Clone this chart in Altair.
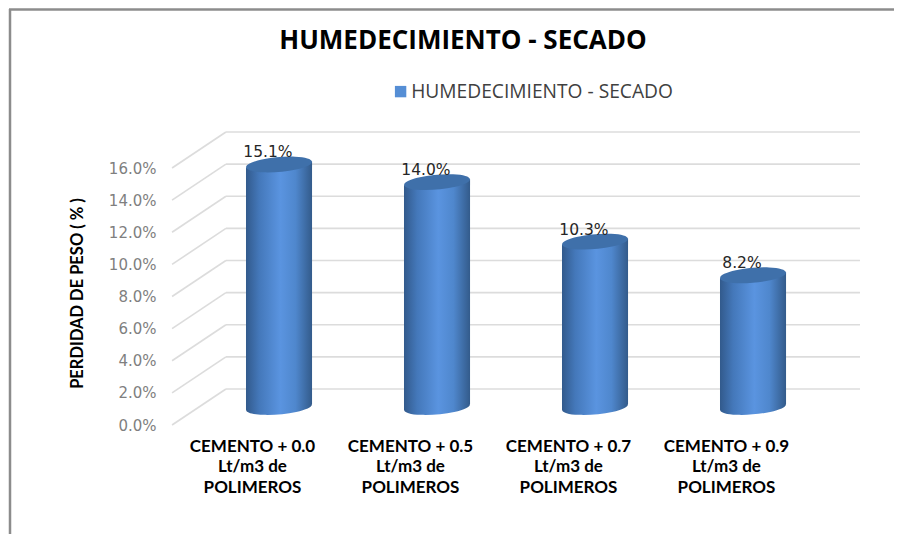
import json
import altair as alt
import pandas as pd

series = "HUMEDECIMIENTO - SECADO"
categories = [
    ["CEMENTO + 0.0", "Lt/m3 de", "POLIMEROS"],
    ["CEMENTO + 0.5", "Lt/m3 de", "POLIMEROS"],
    ["CEMENTO + 0.7", "Lt/m3 de", "POLIMEROS"],
    ["CEMENTO + 0.9", "Lt/m3 de", "POLIMEROS"],
]
values = [15.1, 14.0, 10.3, 8.2]
ticks = [0, 2, 4, 6, 8, 10, 12, 14, 16]

W, H = 886, 526
DX, DY = 0.342, 2.24          # full depth of the 3D floor in x-category / y-value units
HALF = 0.209                  # cylinder half-width in category units
TILT = 0.187                  # ellipse tilt in value units
ELL = "M-0.996,0.087 A1,0.22,-5,1,1,0.996,-0.087 A1,0.22,-5,1,1,-0.996,0.087 Z"
ELL_SIZE = 4356

pos = list(range(1, len(values) + 1))
cx = [p + DX / 2 for p in pos]

x_scale = alt.Scale(domain=[1, 4], range=[244, 718], nice=False, zero=False)
y_scale = alt.Scale(domain=[0, 16], range=[417, 160], nice=False, zero=False)

stops = [
    alt.GradientStop(color="#325a8c", offset=0),
    alt.GradientStop(color="#4478ba", offset=0.2),
    alt.GradientStop(color="#5a94e0", offset=0.52),
    alt.GradientStop(color="#4f87cd", offset=0.75),
    alt.GradientStop(color="#335b8b", offset=1),
]
grad = alt.Gradient(gradient="linear", stops=stops, x1=0, x2=1, y1=0, y2=0)

label_expr = json.dumps(categories) + "[datum.value-1]"

# invisible-size layer that carries the axes and the legend
pts = pd.DataFrame({"p": pos, "cx": cx, "v": values, "ymid": [DY / 2] * 4, "s": [series] * 4})
legend_layer = alt.Chart(pts).mark_square(size=1, opacity=1).encode(
    x=alt.X("cx:Q", scale=x_scale, axis=alt.Axis(
        values=pos, labelExpr=label_expr, title=None, grid=False, ticks=False, domain=False,
        labelFont="Lato", labelFontWeight="bold", labelFontSize=17, labelColor="#000000",
        labelLineHeight=20.5, labelBaseline="top", labelPadding=0, labelLimit=0,
        labelOverlap=False, offset=-96, labelAlign="center")),
    y=alt.Y("ymid:Q", scale=y_scale, axis=alt.Axis(
        values=ticks, format=".1f", labelExpr="format(datum.value,'.1f')+'%'", grid=False,
        ticks=False, domain=False, labelFont="DejaVu Sans", labelFontSize=15, labelColor="#7f7f7f",
        labelPadding=0, offset=-148, title="PERDIDAD DE PESO ( % )", titleFont="Lato",
        titleFontWeight="bold", titleFontSize=16.5, titleColor="#000000", titleAngle=-90,
        titleX=-79, titleY=285, titleAlign="center", titleBaseline="middle")),
    color=alt.Color("s:N", scale=alt.Scale(domain=[series], range=["#558ed5"]), legend=alt.Legend(
        title=None, orient="none", legendX=383, legendY=74, symbolType="square", symbolSize=130,
        symbolStrokeWidth=0, symbolOpacity=1, labelFont="Open Sans", labelFontSize=19.2,
        labelColor="#404040", labelLimit=0, labelOffset=1)),
)

# walls
back = pd.DataFrame({"t": [t + DY for t in ticks], "x0": [0.835] * len(ticks), "x1": [4.848] * len(ticks)})
grid = alt.Chart(back).mark_rule(color="#dcdcdc", strokeWidth=1.6).encode(
    x=alt.X("x0:Q", scale=x_scale), x2="x1:Q", y=alt.Y("t:Q", scale=y_scale))

diag_rows = []
for t in ticks:
    diag_rows.append({"t": t, "x": 0.494, "y": t})
    diag_rows.append({"t": t, "x": 0.835, "y": t + DY})
diag = alt.Chart(pd.DataFrame(diag_rows)).mark_line(color="#dcdcdc", strokeWidth=1.6).encode(
    x=alt.X("x:Q", scale=x_scale), y=alt.Y("y:Q", scale=y_scale), detail="t:N")

# cylinders
base = alt.Chart(pts).mark_point(shape=ELL, size=ELL_SIZE, filled=True, fill=grad, opacity=1, strokeWidth=0).encode(
    x=alt.X("cx:Q", scale=x_scale), y=alt.Y("ymid:Q", scale=y_scale))

body_rows = []
for p, c, v in zip(pos, cx, values):
    for side in (-1, 1):
        body_rows.append({"p": p, "x": c + side * HALF,
                          "top": v + DY / 2 + side * TILT,
                          "bot": DY / 2 + side * TILT})
body = alt.Chart(pd.DataFrame(body_rows)).mark_area(color=grad, orient="vertical", opacity=1).encode(
    x=alt.X("x:Q", scale=x_scale),
    y=alt.Y("top:Q", scale=y_scale, stack=None),
    y2="bot:Q",
    detail="p:N",
)

pts2 = pts.assign(top=[v + DY / 2 for v in values], lab=[v + DY / 2 + 0.75 for v in values],
                  lx=[c - 0.07 for c in cx], txt=[f"{v:.1f}%" for v in values])
cap = alt.Chart(pts2).mark_point(shape=ELL, size=ELL_SIZE, filled=True, fill="#3f70aa", opacity=1, strokeWidth=0).encode(
    x=alt.X("cx:Q", scale=x_scale), y=alt.Y("top:Q", scale=y_scale))
labels = alt.Chart(pts2).mark_text(font="DejaVu Sans", fontSize=15.5, color="#262626", baseline="middle").encode(
    x=alt.X("lx:Q", scale=x_scale), y=alt.Y("lab:Q", scale=y_scale), text="txt:N")

# frame of the original picture
one = pd.DataFrame({"a": [0]})
frame_l = alt.Chart(one).mark_rule(color="#8c8c8c", strokeWidth=2.5).encode(
    x=alt.value(2), y=alt.value(1), y2=alt.value(H))
frame_t = alt.Chart(one).mark_rule(color="#8c8c8c", strokeWidth=2.5).encode(
    y=alt.value(1.5), x=alt.value(1), x2=alt.value(W))

chart = alt.layer(legend_layer, grid, diag, base, body, cap, labels, frame_l, frame_t).properties(
    width=W, height=H, padding=0,
    autosize=alt.AutoSizeParams(type="none"),
    background="white",
    title=alt.TitleParams(series, font="Open Sans", fontWeight="bold", fontSize=26, color="#000000",
                          anchor="middle", frame="group", baseline="middle", dx=12, dy=59, offset=0),
).configure_view(stroke=None)

chart.save("out.html", embed_options={"renderer": "svg", "actions": False})
